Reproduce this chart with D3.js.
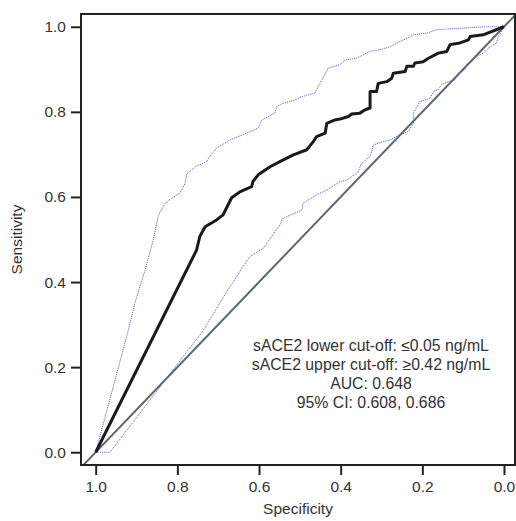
<!DOCTYPE html>
<html>
<head>
<meta charset="utf-8">
<script src="https://cdn.jsdelivr.net/npm/d3@7"></script>
<style>
  body { margin: 0; background: #fff; }
  text { font-family: "Liberation Sans", Arial, sans-serif; fill: #333; }
</style>
</head>
<body>
<div id="chart"></div>
<script>
// ROC curve, specificity / sensitivity pairs
var rocSpec = [1.0, 0.753, 0.745, 0.732, 0.704, 0.688, 0.676, 0.667, 0.647, 0.618, 0.615, 0.602, 0.573, 0.549, 0.516, 0.483, 0.467, 0.459, 0.438, 0.434, 0.414, 0.402, 0.381, 0.373, 0.353, 0.340, 0.328, 0.328, 0.312, 0.308, 0.287, 0.275, 0.271, 0.242, 0.238, 0.222, 0.218, 0.198, 0.185, 0.169, 0.161, 0.140, 0.132, 0.108, 0.087, 0.083, 0.051, 0.0];
var rocSens = [0.0, 0.475, 0.507, 0.530, 0.546, 0.558, 0.581, 0.598, 0.612, 0.624, 0.636, 0.652, 0.671, 0.683, 0.699, 0.711, 0.730, 0.742, 0.750, 0.773, 0.781, 0.783, 0.789, 0.795, 0.797, 0.805, 0.809, 0.848, 0.848, 0.867, 0.871, 0.879, 0.891, 0.895, 0.907, 0.907, 0.915, 0.918, 0.926, 0.934, 0.938, 0.942, 0.958, 0.962, 0.969, 0.977, 0.981, 1.0];

// upper 95% CI band
var upSpec = [1.0, 0.920, 0.904, 0.879, 0.859, 0.847, 0.842, 0.830, 0.814, 0.794, 0.781, 0.777, 0.753, 0.728, 0.722, 0.704, 0.671, 0.630, 0.602, 0.593, 0.577, 0.561, 0.557, 0.541, 0.512, 0.495, 0.463, 0.459, 0.446, 0.430, 0.402, 0.389, 0.361, 0.345, 0.328, 0.304, 0.279, 0.255, 0.238, 0.222, 0.189, 0.165, 0.100, 0.042, 0.0];
var upSens = [0.0, 0.287, 0.351, 0.428, 0.499, 0.554, 0.565, 0.585, 0.597, 0.609, 0.632, 0.654, 0.673, 0.683, 0.694, 0.715, 0.734, 0.750, 0.762, 0.781, 0.789, 0.797, 0.812, 0.820, 0.828, 0.836, 0.844, 0.852, 0.875, 0.903, 0.911, 0.922, 0.926, 0.934, 0.942, 0.946, 0.953, 0.965, 0.973, 0.981, 0.985, 0.993, 0.997, 1.0, 1.0];

// lower 95% CI band
var loSpec = [1.0, 0.965, 0.736, 0.687, 0.634, 0.622, 0.590, 0.549, 0.541, 0.495, 0.492, 0.459, 0.434, 0.402, 0.385, 0.361, 0.357, 0.349, 0.328, 0.320, 0.296, 0.279, 0.255, 0.234, 0.222, 0.222, 0.206, 0.181, 0.173, 0.161, 0.153, 0.136, 0.120, 0.112, 0.096, 0.091, 0.079, 0.067, 0.051, 0.038, 0.018, 0.014, 0.006, 0.0];
var loSens = [0.0, 0.0, 0.287, 0.365, 0.444, 0.460, 0.479, 0.534, 0.550, 0.569, 0.585, 0.605, 0.616, 0.636, 0.640, 0.656, 0.660, 0.679, 0.695, 0.722, 0.730, 0.734, 0.746, 0.754, 0.773, 0.797, 0.824, 0.832, 0.848, 0.852, 0.864, 0.871, 0.875, 0.891, 0.899, 0.911, 0.918, 0.930, 0.938, 0.950, 0.962, 0.977, 0.989, 1.0];

var xTicks = [1.0, 0.8, 0.6, 0.4, 0.2, 0.0];
var yTicks = [0.0, 0.2, 0.4, 0.6, 0.8, 1.0];
var notes = ["sACE2 lower cut-off: \u22640.05 ng/mL", "sACE2 upper cut-off: \u22650.42 ng/mL", "AUC: 0.648", "95% CI: 0.608, 0.686"];

var margin = {top: 14, right: 1, bottom: 56, left: 81};
var width = 516 - margin.left - margin.right;
var height = 521 - margin.top - margin.bottom;

var svg = d3.select("#chart").append("svg")
    .attr("width", 516)
    .attr("height", 521)
  .append("g")
    .attr("transform", "translate(" + margin.left + "," + margin.top + ")");

// reversed specificity axis, small padding on both ends
var x = d3.scaleLinear().domain([1.036, -0.027]).range([0, width]);
var y = d3.scaleLinear().domain([-0.030, 1.030]).range([height, 0]);

svg.append("clipPath").attr("id", "clip")
  .append("rect").attr("width", width).attr("height", height);

function pairs(a, b) { return a.map(function(d, i){ return [d, b[i]]; }); }

var line = d3.line()
    .x(function(d){ return x(d[0]); })
    .y(function(d){ return y(d[1]); });

// chance line
svg.append("path")
    .attr("clip-path", "url(#clip)")
    .attr("d", line([[1.05, -0.05], [-0.05, 1.05]]))
    .attr("fill", "none")
    .attr("stroke", "#5b6b6b")
    .attr("stroke-width", 2);

// CI bands
[pairs(upSpec, upSens), pairs(loSpec, loSens)].forEach(function(p){
    svg.append("path")
        .attr("d", line(p))
        .attr("fill", "none")
        .attr("stroke", "#5555c0")
        .attr("stroke-width", 1)
        .attr("stroke-dasharray", "1,1");
});

// main ROC
svg.append("path")
    .attr("d", line(pairs(rocSpec, rocSens)))
    .attr("fill", "none")
    .attr("stroke", "#1a1a1a")
    .attr("stroke-width", 3)
    .attr("stroke-linejoin", "round");

// frame
svg.append("rect")
    .attr("width", width)
    .attr("height", height)
    .attr("fill", "none")
    .attr("stroke", "#222")
    .attr("stroke-width", 2);

var xAxis = d3.axisBottom(x).tickValues(xTicks).tickFormat(d3.format(".1f")).tickSize(10).tickPadding(5);
var yAxis = d3.axisLeft(y).tickValues(yTicks).tickFormat(d3.format(".1f")).tickSize(10).tickPadding(5);

var gx = svg.append("g").attr("transform", "translate(0," + height + ")").call(xAxis);
var gy = svg.append("g").call(yAxis);
[gx, gy].forEach(function(g){
    g.select(".domain").remove();
    g.selectAll(".tick line").attr("stroke", "#222").attr("stroke-width", 2);
    g.selectAll(".tick text").attr("font-size", 15.5).attr("fill", "#333");
});
gx.selectAll(".tick text").attr("dy", "0.75em");

svg.append("text")
    .attr("x", width / 2)
    .attr("y", height + 49)
    .attr("text-anchor", "middle")
    .attr("font-size", 15.5)
    .text("Specificity");

svg.append("text")
    .attr("transform", "translate(" + (-59) + "," + (height / 2) + ") rotate(-90)")
    .attr("text-anchor", "middle")
    .attr("font-size", 15.5)
    .text("Sensitivity");

svg.selectAll(".note")
    .data(notes)
    .enter().append("text")
    .attr("class", "note")
    .attr("x", 371 - margin.left)
    .attr("y", function(d, i){ return 350.5 - margin.top + i * 19.3; })
    .attr("text-anchor", "middle")
    .attr("font-size", 15.8)
    .text(function(d){ return d; });
</script>
</body>
</html>
